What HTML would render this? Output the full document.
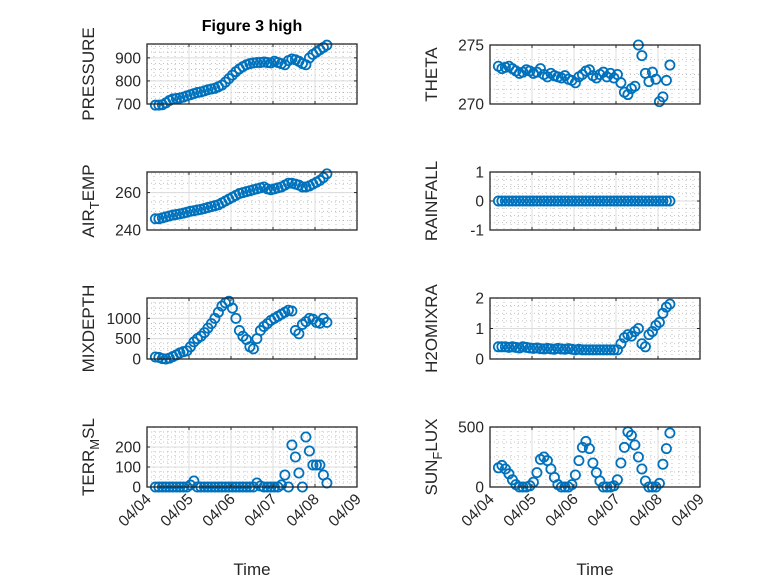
<!DOCTYPE html>
<html><head><meta charset="utf-8">
<style>
html,body{margin:0;padding:0;background:#fff;}
svg{display:block;font-family:"Liberation Sans",sans-serif;}
</style></head>
<body>
<svg id="fig" width="778" height="583" viewBox="0 0 778 583" xmlns="http://www.w3.org/2000/svg">
<rect width="778" height="583" fill="#fff"/>
<text x="252" y="31" text-anchor="middle" font-size="16" font-weight="bold" fill="#000">Figure 3 high</text>
</svg>
<script>
const times = [];
for (let i = 0; i < 50; i++) times.push(4.2 + i / 12);
const pressure = [695,695,697,705,715,722,724,726,730,735,740,745,750,752,757,762,765,768,775,782,795,810,825,840,852,862,870,875,878,880,880,882,880,878,885,880,875,870,888,895,892,885,875,870,900,915,925,935,945,955];
const airTemp = [246,246,246.5,247,247.5,248,248.3,248.6,249,249.5,250,250.3,250.7,251,251.5,252,252.5,253,253.5,254.5,255.5,256.5,257.5,258.5,259.5,260,260.5,261,261.5,262,262.5,263,262,261.5,262,262.5,263,264,265,265,264.5,264,263,263,263.5,264.5,265.5,266.5,268,270];
const mixDepth = [50,40,10,0,20,60,100,150,180,200,300,420,500,560,650,760,870,1000,1150,1300,1380,1420,1250,1000,700,560,480,300,250,500,700,800,870,950,1000,1050,1100,1150,1200,1180,700,620,850,920,1000,980,900,880,1000,900];
const terrMsl = [0,0,0,0,0,0,0,0,0,0,10,30,0,0,0,0,0,0,0,0,0,0,0,0,0,0,0,0,0,20,5,0,0,0,0,0,10,60,0,210,150,70,0,250,180,110,110,110,60,20];
const theta = [273.2,273.0,273.1,273.2,273.0,272.8,272.6,272.7,272.9,272.8,272.6,272.7,273.0,272.5,272.3,272.6,272.4,272.3,272.2,272.4,272.1,272.0,271.8,272.3,272.5,272.8,272.9,272.4,272.2,272.5,272.7,272.3,272.6,272.2,272.5,271.8,271.0,270.8,271.3,271.5,275.0,274.1,272.6,271.9,272.7,272.1,270.2,270.6,272.0,273.3];
const rainfall = Array(50).fill(0);
const h2o = [0.4,0.4,0.4,0.38,0.4,0.38,0.36,0.4,0.38,0.36,0.35,0.36,0.34,0.33,0.35,0.33,0.32,0.35,0.33,0.32,0.34,0.32,0.3,0.32,0.3,0.3,0.3,0.3,0.3,0.3,0.3,0.3,0.3,0.3,0.3,0.5,0.7,0.8,0.75,0.9,1.0,0.5,0.4,0.8,0.9,1.1,1.2,1.5,1.7,1.8];
const sunFlux = [160,180,150,110,60,20,0,0,0,10,40,120,230,250,220,150,80,20,0,0,0,20,100,220,330,380,320,200,120,50,0,0,0,10,60,200,330,460,430,350,250,150,50,0,0,0,30,190,320,450];
const xTickLabels = ["04/04","04/05","04/06","04/07","04/08","04/09"];

const NS = "http://www.w3.org/2000/svg";
const svg = document.getElementById("fig");
function mk(tag, attrs, parent) {
  const e = document.createElementNS(NS, tag);
  for (const k in attrs) e.setAttribute(k, attrs[k]);
  (parent || svg).appendChild(e);
  return e;
}
const panels = [
  {name:"pressure", x0:147, y0:44, y1:104, min:700, max:960, ticks:[700,800,900], data:pressure, label:["PRESSURE"], lx:94, xt:false},
  {name:"air-temp", x0:147, y0:172, y1:230, min:240, max:271, ticks:[240,260], data:airTemp, label:["AIR","T","EMP"], lx:94, xt:false},
  {name:"mixdepth", x0:147, y0:298, y1:359, min:0, max:1500, ticks:[0,500,1000], data:mixDepth, label:["MIXDEPTH"], lx:94, xt:false},
  {name:"terr-msl", x0:147, y0:427, y1:487, min:0, max:300, ticks:[0,100,200], data:terrMsl, label:["TERR","M","SL"], lx:94, xt:true},
  {name:"theta", x0:490, y0:45, y1:104, min:270, max:275, ticks:[270,275], data:theta, label:["THETA"], lx:437, xt:false},
  {name:"rainfall", x0:490, y0:172, y1:230, min:-1, max:1, ticks:[-1,0,1], data:rainfall, label:["RAINFALL"], lx:437, xt:false},
  {name:"h2omixra", x0:490, y0:298, y1:359, min:0, max:2, ticks:[0,1,2], data:h2o, label:["H2OMIXRA"], lx:437, xt:false},
  {name:"sun-flux", x0:490, y0:427, y1:487, min:0, max:500, ticks:[0,500], data:sunFlux, label:["SUN","F","LUX"], lx:437, xt:true}
];
const W = 210, T0 = 4, T1 = 9;
panels.forEach(p => {
  const g = mk("g", {});
  
  
  const xs = t => p.x0 + (t - T0) / (T1 - T0) * W;
  const ys = v => p.y1 - (v - p.min) / (p.max - p.min) * (p.y1 - p.y0);
  for (let d = 0; d < 5; d++) for (let k = 1; k < 6; k++) {
    const x = xs(T0 + d + k / 6);
    mk("line", {x1:x, x2:x, y1:p.y0, y2:p.y1, stroke:"#b0b0b0", "stroke-width":0.8, "stroke-dasharray":"1,3"}, g);
  }
  const step = p.ticks.length > 1 ? p.ticks[1] - p.ticks[0] : 1;
  for (let v = p.min; v <= p.max + 1e-9; v += step / 4) {
    const y = ys(v);
    mk("line", {x1:p.x0, x2:p.x0 + W, y1:y, y2:y, stroke:"#b0b0b0", "stroke-width":0.8, "stroke-dasharray":"1,3"}, g);
  }
  for (let d = 1; d < 5; d++) { const x = xs(T0 + d); mk("line", {x1:x, x2:x, y1:p.y0, y2:p.y1, stroke:"#dcdcdc", "stroke-width":1}, g); }
  p.ticks.forEach(v => { const y = ys(v); mk("line", {x1:p.x0, x2:p.x0 + W, y1:y, y2:y, stroke:"#dcdcdc", "stroke-width":1}, g); });
  p.data.forEach((v, i) => {
    const c = mk("circle", {cx:xs(times[i]), cy:ys(v), r:4.6, fill:"none", stroke:"#0072BD", "stroke-width":1.8}, g);
    
    
  });
  mk("rect", {x:p.x0, y:p.y0, width:W, height:p.y1 - p.y0, fill:"none", stroke:"#262626", "stroke-width":1.3}, g);
  p.ticks.forEach(v => {
    const y = ys(v);
    mk("line", {x1:p.x0, x2:p.x0 + 3, y1:y, y2:y, stroke:"#262626"}, g);
    mk("line", {x1:p.x0 + W, x2:p.x0 + W - 3, y1:y, y2:y, stroke:"#262626"}, g);
    const t = mk("text", {x:p.x0 - 6, y:y + 5.5, "text-anchor":"end", "font-size":15.5, fill:"#262626"}, g);
    t.textContent = v;
    
    
  });
  for (let d = 0; d <= 5; d++) {
    const x = xs(T0 + d);
    mk("line", {x1:x, x2:x, y1:p.y1, y2:p.y1 - 3, stroke:"#262626"}, g);
    mk("line", {x1:x, x2:x, y1:p.y0, y2:p.y0 + 3, stroke:"#262626"}, g);
    if (p.xt) {
      const ax = x + 5, ay = p.y1 + 13;
      const t = mk("text", {x:ax, y:ay, "text-anchor":"end", "font-size":15.5, fill:"#262626", transform:"rotate(-45 " + ax + " " + ay + ")"}, g);
      t.textContent = xTickLabels[d];
      
      
    }
  }
  if (p.xt) {
    const t = mk("text", {x:p.x0 + W / 2, y:575, "text-anchor":"middle", "font-size":17, fill:"#262626"}, g);
    t.textContent = "Time";
    
    
  }
  const cy = (p.y0 + p.y1) / 2;
  const yl = mk("text", {x:p.lx, y:cy, "text-anchor":"middle", "font-size":17, fill:"#262626", transform:"rotate(-90 " + p.lx + " " + cy + ")"}, g);
  
  
  if (p.label.length === 1) yl.textContent = p.label[0];
  else {
    const a = mk("tspan", {}, yl); a.textContent = p.label[0];
    const b = mk("tspan", {dy:5, "font-size":13}, yl); b.textContent = p.label[1];
    const c = mk("tspan", {dy:-5}, yl); c.textContent = p.label[2];
  }
});
</script>
</body></html>
